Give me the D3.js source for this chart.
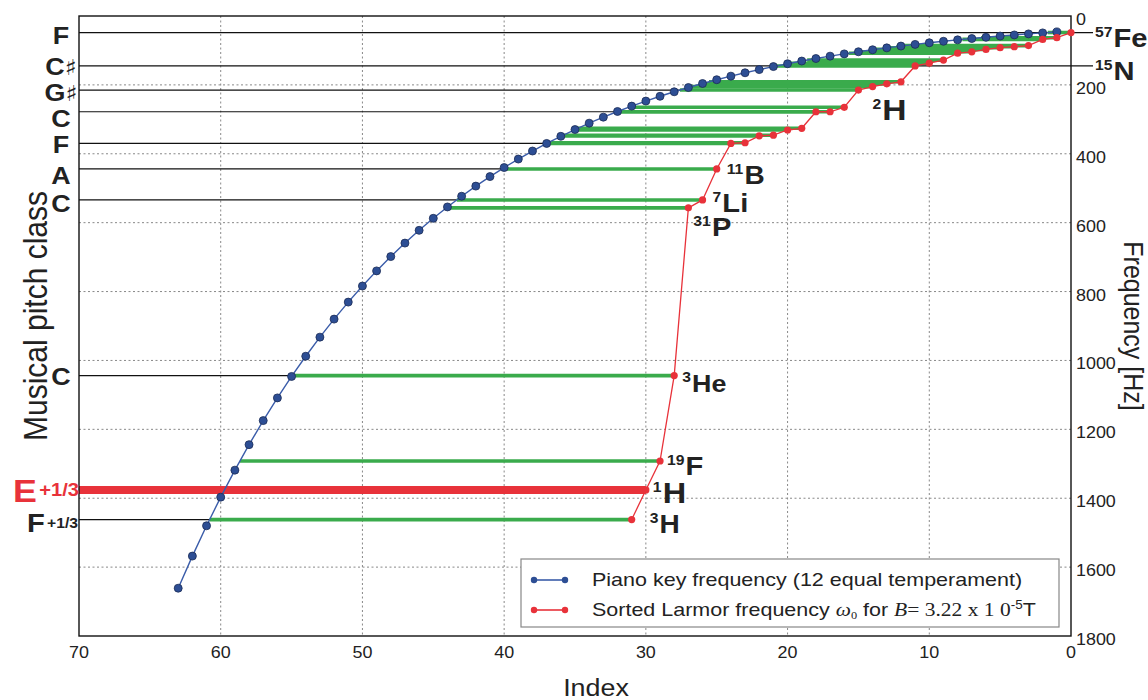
<!DOCTYPE html>
<html><head><meta charset="utf-8">
<script src="https://cdn.jsdelivr.net/npm/d3@7"></script>
<style>
body{margin:0;background:#fff}
svg{display:block}
text{font-family:"Liberation Sans",Arial,Helvetica,sans-serif;fill:#222}
</style>
</head><body>
<svg id="c" width="1148" height="700"></svg>
<script>
// ---------------- data ----------------
// Piano key frequency (12-TET), index 1..63
const pianoFreq = [46.25,49.00,51.91,55.00,58.27,61.74,65.41,69.30,73.42,77.78,82.41,87.31,92.50,98.00,103.83,110.00,116.54,123.47,130.81,138.59,146.83,155.56,164.81,174.61,185.00,196.00,207.65,220.00,233.08,246.94,261.63,277.18,293.66,311.13,329.63,349.23,369.99,392.00,415.30,440.00,466.16,493.88,523.25,554.37,587.33,622.25,659.26,698.46,739.99,783.99,830.61,880.00,932.33,987.77,1046.50,1108.73,1174.66,1244.51,1318.51,1396.91,1479.98,1567.98,1661.22];
// Sorted Larmor frequencies, index 0..31
const larmorFreq = [48,63,68,86,89,92,97,104,108,128,137,145,191,197,205,215,265,278,278,326,331,346,348,368,370,444,534,557,1044,1292,1376,1462];
const xTicks = [70,60,50,40,30,20,10,0];
const yTicks = [0,200,400,600,800,1000,1200,1400,1600,1800];
const gridX = [60,50,40,30,20,10];
const gridY = [200,400,600,800,1000,1200,1400,1600];
// pitch-class labels (left) and the Larmor index they mark
const pitchNote = ["F","C","G","C","F","A","C","C","E","F"];
const pitchSharp = [false,true,true,false,false,false,false,false,false,false];
const pitchSuffix = ["","","","","","","","","+1/3","+1/3"];
const pitchRed = [0,11,15,18,24,25,26,28,30,31];
// isotope labels
const isoMass = ["57","15","2","11","7","31","3","19","1","3"];
const isoSym  = ["Fe","N","H","B","Li","P","He","F","H","H"];
const isoRed  = [0,11,15,25,26,27,28,29,30,31];
const legendLabels = ["Piano key frequency (12 equal temperament)","Sorted Larmor frequency"];

// ---------------- layout ----------------
const SX = 1.12;
const BLUE = "#3a5ca9", BLUEDOT = "#2d4e94", RED = "#e8323a", GREEN = "#3aab4c";
const svg = d3.select("#c");
const x = d3.scaleLinear().domain([70,0]).range([79,1071]);
const y = d3.scaleLinear().domain([0,1800]).range([16,636]);

function txt(g, px, py, anchor, rot){
  let tr = `translate(${px},${py})`;
  if (rot) tr += ` rotate(${rot}) scale(1,${SX})`; else tr += ` scale(${SX},1)`;
  return g.append("text").attr("transform", tr).attr("text-anchor", anchor||"start");
}
function blueIndex(f){
  for (let i=1;i<pianoFreq.length;i++){
    if (f <= pianoFreq[i]){ const a=pianoFreq[i-1], b=pianoFreq[i]; return i + (f-a)/(b-a); }
  }
  return pianoFreq.length;
}

// grid
const grid = svg.append("g").attr("stroke","#888").attr("stroke-width",1).attr("stroke-dasharray","2,2.5");
gridX.forEach(v=>grid.append("line").attr("x1",x(v)).attr("x2",x(v)).attr("y1",y(0)).attr("y2",y(1800)));
gridY.forEach(v=>grid.append("line").attr("x1",x(70)).attr("x2",x(0)).attr("y1",y(v)).attr("y2",y(v)));

// black pitch lines
const bl = svg.append("g").attr("stroke","#111").attr("stroke-width",1.2);
pitchRed.forEach((ri,k)=>{
  if (ri===30) return;
  const f = larmorFreq[ri];
  const full = (ri===0 || ri===11);
  bl.append("line").attr("x1",x(70)).attr("x2", full ? x(0)+22 : x(blueIndex(f)))
    .attr("y1",y(f)).attr("y2",y(f));
});

// green connectors
const gl = svg.append("g").attr("stroke",GREEN).attr("stroke-width",3.6);
larmorFreq.forEach((f,j)=>{
  gl.append("line").attr("x1",x(j)).attr("x2",x(blueIndex(f))).attr("y1",y(f)).attr("y2",y(f));
});

// thick red line for 1H
svg.append("line").attr("x1",x(70)).attr("x2",x(30)).attr("y1",y(larmorFreq[30])).attr("y2",y(larmorFreq[30]))
  .attr("stroke",RED).attr("stroke-width",8);

// frame
svg.append("rect").attr("x",x(70)).attr("y",y(0)).attr("width",x(0)-x(70)).attr("height",y(1800)-y(0))
  .attr("fill","none").attr("stroke","#111").attr("stroke-width",1.4);

// blue series
const pianoPts = pianoFreq.map((f,i)=>[i+1,f]);
svg.append("path").datum(pianoPts).attr("fill","none").attr("stroke",BLUE).attr("stroke-width",1.4)
  .attr("d", d3.line().x(d=>x(d[0])).y(d=>y(d[1])));
svg.append("g").selectAll("circle").data(pianoPts).join("circle")
  .attr("cx",d=>x(d[0])).attr("cy",d=>y(d[1])).attr("r",4)
  .attr("fill",BLUEDOT).attr("stroke","#1c2c55").attr("stroke-width",0.8);

// red series
const larPts = larmorFreq.map((f,j)=>[j,f]);
svg.append("path").datum(larPts).attr("fill","none").attr("stroke",RED).attr("stroke-width",1.3)
  .attr("d", d3.line().x(d=>x(d[0])).y(d=>y(d[1])));
svg.append("g").selectAll("circle").data(larPts).join("circle")
  .attr("cx",d=>x(d[0])).attr("cy",d=>y(d[1])).attr("r",3.6).attr("fill",RED);

// axis ticks labels
xTicks.forEach(v=>txt(svg, x(v), 658, "middle").attr("font-size",16).text(v));
yTicks.forEach(v=>txt(svg, 1076, y(v)+9, "start").attr("font-size",16).text(v));
txt(svg, 596, 696, "middle").attr("font-size",24).text("Index");
txt(svg, 1124, 326, "middle", 90).attr("font-size",25).text("Frequency [Hz]");
txt(svg, 47, 316, "middle", -90).attr("font-size",30).text("Musical pitch class");

// pitch labels
const pitchDy = [11,9.5,10.5,15,10,15,12,9,12,12];
pitchRed.forEach((ri,k)=>{
  const yy = y(larmorFreq[ri]) + pitchDy[k];
  if (pitchSuffix[k]){
    const isE = k===8;
    const t = txt(svg, isE?13:27, yy, "start").attr("font-weight","bold").style("fill", isE?RED:"#222");
    t.append("tspan").attr("font-size", isE?32:26).text(pitchNote[k]);
    t.append("tspan").attr("font-size", isE?18:14).attr("dx",2).attr("dy", isE?-6:-4).text(pitchSuffix[k]);
  } else {
    const t = txt(svg, 61, yy, "middle").attr("font-weight","bold").attr("font-size",24);
    t.append("tspan").text(pitchNote[k]);
    if (pitchSharp[k]) t.append("tspan").attr("font-family","DejaVu Sans").attr("font-weight","bold").attr("font-size",22).text("\u266F");
  }
});

// isotope labels
const isoDx = [0,0,14,10,10,5,8,7,7,18];
const isoDy = [14,14,30,15,12,28,16,14,13,13];
const isoSize = [26,26,30,25,26,26,24,26,29,25];
isoRed.forEach((ri,k)=>{
  const px = (ri===0||ri===11) ? x(0)+24 : x(ri)+isoDx[k];
  const py = y(larmorFreq[ri]) + isoDy[k];
  const t = txt(svg, px, py, "start").attr("font-weight","bold");
  t.append("tspan").attr("font-size",14).attr("dy",-isoSize[k]*0.38).text(isoMass[k]);
  t.append("tspan").attr("font-size",isoSize[k]).attr("dx",1).attr("dy",isoSize[k]*0.38).text(isoSym[k]);
});

// legend
const lg = svg.append("g");
lg.append("rect").attr("x",521).attr("y",559).attr("width",538).attr("height",68)
  .attr("fill","#fff").attr("stroke","#888").attr("stroke-width",1.2);
[[BLUE,BLUEDOT,580],[RED,RED,610]].forEach(([c,d,yy])=>{
  lg.append("line").attr("x1",534).attr("x2",565).attr("y1",yy).attr("y2",yy).attr("stroke",c).attr("stroke-width",1.6);
  [534,565].forEach(cx=>lg.append("circle").attr("cx",cx).attr("cy",yy).attr("r",3.2).attr("fill",d));
});
txt(lg, 592, 586, "start").attr("font-size",19.2).text(legendLabels[0]);
const l2 = txt(lg, 592, 616, "start").attr("font-size",19.2);
l2.append("tspan").text(legendLabels[1]+" ");
l2.append("tspan").attr("font-family","Liberation Serif").attr("font-style","italic").text("\u03C9");
l2.append("tspan").attr("font-family","Liberation Serif").attr("font-size",11).attr("dy",3).text("0");
l2.append("tspan").attr("dy",-3).text(" for ");
l2.append("tspan").attr("font-family","Liberation Serif").attr("font-style","italic").text("B");
l2.append("tspan").attr("font-family","Liberation Serif").text("= 3.22 x 1 0");
l2.append("tspan").attr("font-size",12).attr("dy",-7).text("-5");
l2.append("tspan").attr("dy",7).text("T");
</script>
</body></html>
